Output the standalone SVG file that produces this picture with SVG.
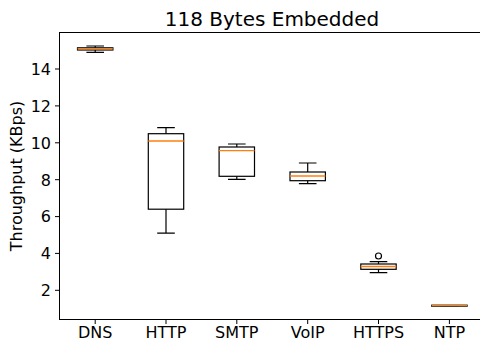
<svg xmlns="http://www.w3.org/2000/svg" width="480" height="346" viewBox="0 0 480 346">
<style>
text{font-family:"DejaVu Sans","Liberation Sans",sans-serif;fill:#000}
.tl{font-size:16px}
.yl{text-anchor:end}
.xl{text-anchor:middle}
.ax{fill:none;stroke:#000;stroke-width:1}
.tk{stroke:#000;stroke-width:1}
.bx{fill:none;stroke:#000;stroke-width:1.2}
.wh{stroke:#000;stroke-width:1.2;fill:none}
.md{stroke:#ff7f0e;stroke-width:1.3}
.fl{fill:none;stroke:#000;stroke-width:1.2}
</style>
<rect width="480" height="346" fill="#fff"/>
<text x="272" y="26" font-size="20" text-anchor="middle">118 Bytes Embedded</text>
<g id="axes">
<rect class="ax" x="59.5" y="32.5" width="430" height="287"/>
<g id="yticks">
<line class="tk" x1="55" y1="290.3" x2="59.5" y2="290.3"/>
<line class="tk" x1="55" y1="253.4" x2="59.5" y2="253.4"/>
<line class="tk" x1="55" y1="216.6" x2="59.5" y2="216.6"/>
<line class="tk" x1="55" y1="179.7" x2="59.5" y2="179.7"/>
<line class="tk" x1="55" y1="142.8" x2="59.5" y2="142.8"/>
<line class="tk" x1="55" y1="105.9" x2="59.5" y2="105.9"/>
<line class="tk" x1="55" y1="69" x2="59.5" y2="69"/>
<text class="tl yl" x="51" y="296.1">2</text>
<text class="tl yl" x="51" y="259.2">4</text>
<text class="tl yl" x="51" y="222.4">6</text>
<text class="tl yl" x="51" y="185.5">8</text>
<text class="tl yl" x="51" y="148.6">10</text>
<text class="tl yl" x="51" y="111.7">12</text>
<text class="tl yl" x="51" y="74.8">14</text>
</g>
<g id="xticks">
<line class="tk" x1="95.2" y1="319.5" x2="95.2" y2="324"/>
<line class="tk" x1="166" y1="319.5" x2="166" y2="324"/>
<line class="tk" x1="236.8" y1="319.5" x2="236.8" y2="324"/>
<line class="tk" x1="307.7" y1="319.5" x2="307.7" y2="324"/>
<line class="tk" x1="378.5" y1="319.5" x2="378.5" y2="324"/>
<line class="tk" x1="449.4" y1="319.5" x2="449.4" y2="324"/>
<text class="tl xl" x="95.2" y="338">DNS</text>
<text class="tl xl" x="166" y="338">HTTP</text>
<text class="tl xl" x="236.8" y="338">SMTP</text>
<text class="tl xl" x="307.7" y="338">VoIP</text>
<text class="tl xl" x="378.5" y="338">HTTPS</text>
<text class="tl xl" x="449.4" y="338">NTP</text>
</g>
<text class="tl" x="0" y="0" text-anchor="middle" transform="translate(22,176) rotate(-90)">Throughput (KBps)</text>
</g>
<g id="DNS">
<path class="wh" d="M95.2 46V47.8M95.2 50V52.3M86.4 46H104M86.4 52.3H104"/>
<rect class="bx" x="77.5" y="47.8" width="35.4" height="2.2"/>
<line class="md" x1="77.5" y1="48.8" x2="112.9" y2="48.8"/>
</g>
<g id="HTTP">
<path class="wh" d="M166 127.7V133.7M166 209.2V233.2M157.2 127.7H174.8M157.2 233.2H174.8"/>
<rect class="bx" x="148.3" y="133.7" width="35.4" height="75.5"/>
<line class="md" x1="148.3" y1="141" x2="183.7" y2="141"/>
</g>
<g id="SMTP">
<path class="wh" d="M236.8 144V147M236.8 176.3V179.3M228 144H245.6M228 179.3H245.6"/>
<rect class="bx" x="219.1" y="147" width="35.4" height="29.3"/>
<line class="md" x1="219.1" y1="150.7" x2="254.5" y2="150.7"/>
</g>
<g id="VoIP">
<path class="wh" d="M307.7 163V172M307.7 180.7V183.7M298.9 163H316.5M298.9 183.7H316.5"/>
<rect class="bx" x="290" y="172" width="35.4" height="8.7"/>
<line class="md" x1="290" y1="176" x2="325.4" y2="176"/>
</g>
<g id="HTTPS">
<path class="wh" d="M378.5 261.7V264M378.5 269.3V272.7M369.7 261.7H387.3M369.7 272.7H387.3"/>
<rect class="bx" x="360.8" y="264" width="35.4" height="5.3"/>
<line class="md" x1="360.8" y1="266.5" x2="396.2" y2="266.5"/>
<circle class="fl" cx="378.5" cy="256" r="3"/>
</g>
<g id="NTP">
<path class="wh" d="M440.6 305.7H458.2"/>
<rect class="bx" x="431.7" y="305.2" width="35.4" height="1"/>
<line class="md" x1="431.7" y1="305.7" x2="467.1" y2="305.7"/>
</g>
</svg>
